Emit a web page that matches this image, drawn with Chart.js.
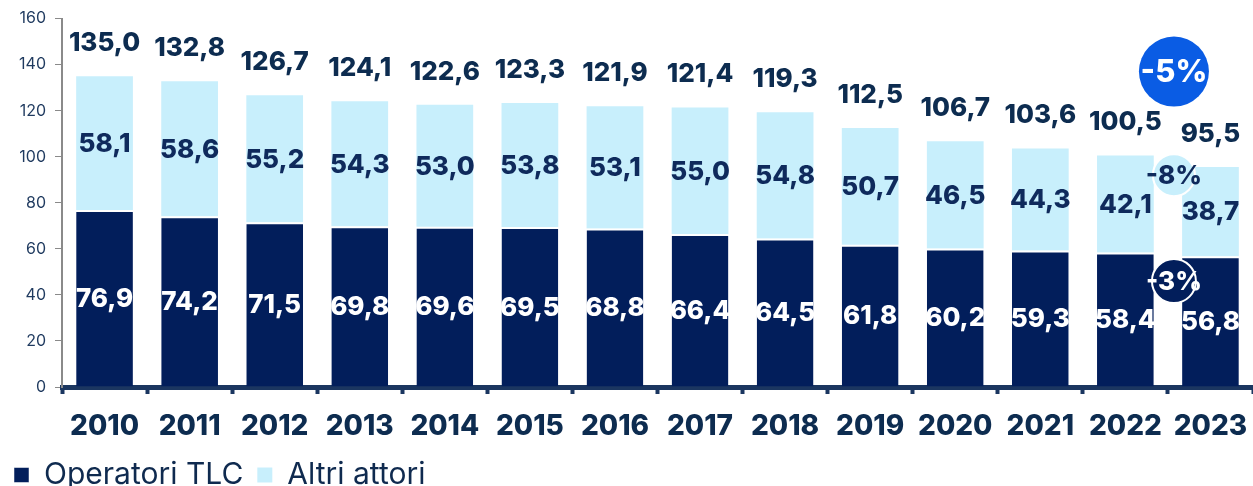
<!DOCTYPE html>
<html><head><meta charset="utf-8">
<script src="https://cdn.jsdelivr.net/npm/chart.js@4/dist/chart.umd.min.js"></script>
<style>html,body{margin:0;padding:0;background:#fff}#wrap{width:1253px;height:486px}</style>
</head><body><div id="wrap"><canvas id="c" width="1253" height="486"></canvas></div>
<script>
const years = ['2010','2011','2012','2013','2014','2015','2016','2017','2018','2019','2020','2021','2022','2023'];
const operatoriTLC = [76.9,74.2,71.5,69.8,69.6,69.5,68.8,66.4,64.5,61.8,60.2,59.3,58.4,56.8];
const altriAttori = [58.1,58.6,55.2,54.3,53.0,53.8,53.1,55.0,54.8,50.7,46.5,44.3,42.1,38.7];
const totals = [135.0,132.8,126.7,124.1,122.6,123.3,121.9,121.4,119.3,112.5,106.7,103.6,100.5,95.5];
const badges = [
  {text:'-5%', value:137, r:35, fill:'#0a5ce4', stroke:null, color:'#ffffff', size:31},
  {text:'-8%', value:92, r:21, fill:'#c8effc', stroke:'#ffffff', color:'#0f2a5c', size:26},
  {text:'-3%', value:46, r:22, fill:'#021e5b', stroke:'#ffffff', color:'#ffffff', size:26}
];
const FONT = 'Inter, "DejaVu Sans", sans-serif';
const fmt = v => v.toFixed(1).replace('.', ',');

const labelPlugin = {
  id: 'labels',
  afterDatasetsDraw(chart) {
    const ctx = chart.ctx;
    const x = chart.scales.x, y = chart.scales.y;
    ctx.save();
    ctx.textAlign = 'center';
    ctx.textBaseline = 'middle';
    const m0 = chart.getDatasetMeta(0), m1 = chart.getDatasetMeta(1);
    ctx.font = '800 26px ' + FONT;
    m0.data.forEach((b, i) => {
      ctx.fillStyle = '#ffffff';
      ctx.fillText(fmt(operatoriTLC[i]), b.x, (b.y + b.base) / 2 + 1);
    });
    m1.data.forEach((b, i) => {
      ctx.fillStyle = '#0f2a5c';
      ctx.fillText(fmt(altriAttori[i]), b.x, (b.y + b.base) / 2 + 1);
      ctx.fillStyle = '#0d2c50';
      ctx.fillText(fmt(totals[i]), b.x, y.getPixelForValue(totals[i]) - 33);
    });
    const bx = x.getPixelForValue(12.5) + 6;
    badges.forEach(bd => {
      const cy = y.getPixelForValue(bd.value);
      ctx.beginPath();
      ctx.arc(bx, cy, bd.r, 0, Math.PI * 2);
      ctx.fillStyle = bd.fill;
      ctx.fill();
      if (bd.stroke) { ctx.lineWidth = 2; ctx.strokeStyle = bd.stroke; ctx.stroke(); }
      ctx.fillStyle = bd.color;
      ctx.font = '800 ' + bd.size + 'px ' + FONT;
      ctx.fillText(bd.text, bx, cy + 1);
    });
    ctx.restore();
  }
};

new Chart(document.getElementById('c'), {
  type: 'bar',
  data: {
    labels: years,
    datasets: [
      {label:'Operatori TLC', data: operatoriTLC, backgroundColor:'#021e5b',
       borderColor:'#ffffff', borderWidth:{top:2,left:0,right:0,bottom:0}, borderSkipped:false},
      {label:'Altri attori', data: altriAttori, backgroundColor:'#c8effc', borderWidth:0}
    ]
  },
  options: {
    responsive:false, animation:false,
    events: [],
    layout:{padding:{top:18,right:-7,left:0,bottom:-14}},
    datasets:{bar:{categoryPercentage:0.667, barPercentage:1}},
    plugins:{
      tooltip:{enabled:false},
      legend:{position:'bottom', align:'start',
        labels:{font:{family:FONT,size:30}, color:'#0f2a4f', boxWidth:15, boxHeight:15, padding:14}}
    },
    scales:{
      x:{stacked:true,
        grid:{display:true, drawOnChartArea:false, drawTicks:true, tickLength:7, tickWidth:4, tickColor:'#1b3660', color:'#1b3660'},
        border:{display:true, color:'#1b3660', width:5},
        ticks:{font:{family:FONT,size:28,weight:'800'}, color:'#0d2c50', padding:16},
        afterFit(s){ s.height = 59; s.paddingRight = -7; s.paddingLeft = 0; }
      },
      y:{stacked:true, min:0, max:160,
        grid:{display:true, drawOnChartArea:false, drawTicks:true, tickLength:7, color:'#8a8a8a', tickColor:'#8a8a8a'},
        border:{display:true, color:'#8a8a8a', width:2},
        ticks:{stepSize:20, font:{family:FONT,size:16}, color:'#1f3a5f', padding:9},
        afterFit(s){ s.width = 62; }
      }
    }
  },
  plugins:[labelPlugin]
});
</script></body></html>
